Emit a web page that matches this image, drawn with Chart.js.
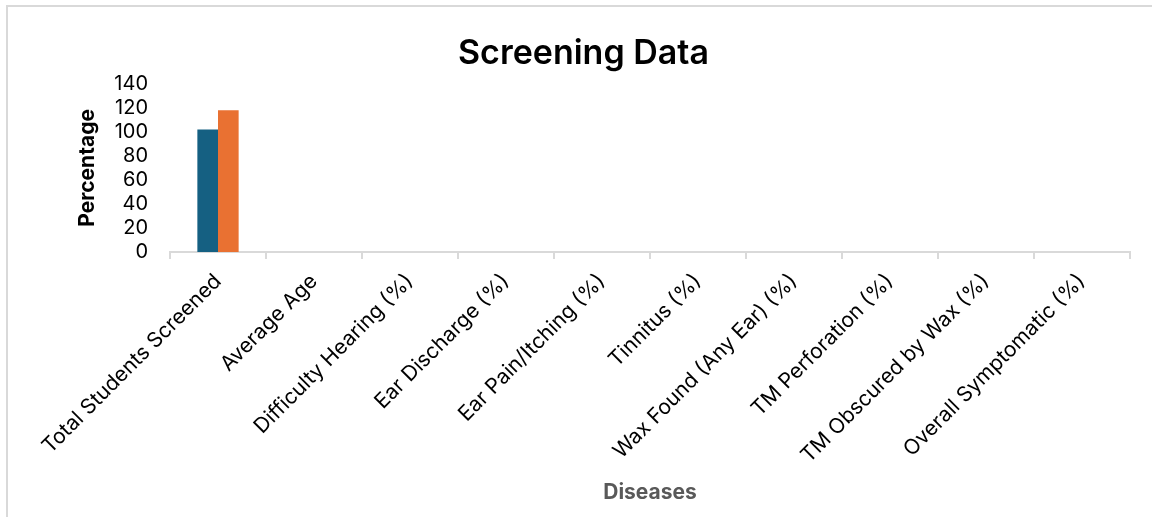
<!DOCTYPE html>
<html>
<head>
<meta charset="utf-8">
<script src="https://cdn.jsdelivr.net/npm/chart.js@4.4.1/dist/chart.umd.min.js"></script>
<style>
  html, body { margin: 0; padding: 0; background: #ffffff; }
  #wrap { position: relative; width: 1152px; height: 517px; overflow: hidden; }
  #frame {
    position: absolute; left: 6px; top: 5px; width: 1200px; height: 600px;
    border-top: 2px solid #d9d9d9; border-left: 2px solid #d9d9d9;
  }
  #c { position: absolute; left: 0; top: 0; }
</style>
</head>
<body>
<div id="wrap">
  <div id="frame"></div>
  <canvas id="c" width="1152" height="517"></canvas>
</div>
<script>
// Categories on the x axis
const categories = [
  'Total Students Screened',
  'Average Age',
  'Difficulty Hearing (%)',
  'Ear Discharge (%)',
  'Ear Pain/Itching (%)',
  'Tinnitus (%)',
  'Wax Found (Any Ear) (%)',
  'TM Perforation (%)',
  'TM Obscured by Wax (%)',
  'Overall Symptomatic (%)'
];

// Two series of values, one per category
const series1 = [102, 0, 0, 0, 0, 0, 0, 0, 0, 0];
const series2 = [118, 0, 0, 0, 0, 0, 0, 0, 0, 0];

// Value axis ticks
const yTicks = [0, 20, 40, 60, 80, 100, 120, 140];

const FONT = "Inter, 'Liberation Sans', Arial, sans-serif";

new Chart(document.getElementById('c'), {
  type: 'bar',
  data: {
    labels: categories,
    datasets: [
      { label: 'Series 1', data: series1, backgroundColor: '#156082', borderWidth: 0 },
      { label: 'Series 2', data: series2, backgroundColor: '#E97132', borderWidth: 0 }
    ]
  },
  options: {
    responsive: false,
    animation: false,
    events: [],
    layout: { padding: { left: 37, right: 22, top: 0, bottom: 0 } },
    datasets: { bar: { categoryPercentage: 0.43, barPercentage: 1.0 } },
    plugins: {
      legend: { display: false },
      tooltip: { enabled: false },
      title: {
        display: true,
        text: 'Screening Data',
        color: '#000000',
        font: { family: FONT, size: 34, weight: '600' },
        padding: { top: 33, bottom: 10 }
      }
    },
    scales: {
      x: {
        offset: true,
        grid: {
          display: true,
          drawOnChartArea: false,
          drawTicks: true,
          tickLength: 7,
          color: '#d9d9d9',
          lineWidth: 2,
          offset: true
        },
        border: { display: true, color: '#d9d9d9', width: 2 },
        ticks: {
          autoSkip: false,
          maxRotation: 45,
          minRotation: 45,
          padding: 10,
          color: '#000000',
          font: { family: FONT, size: 21 }
        },
        title: {
          display: true,
          text: 'Diseases',
          color: '#595959',
          font: { family: FONT, size: 21, weight: 'bold' },
          padding: { top: 0, bottom: 12 }
        },
        afterFit: (s) => { s.height = 265; }
      },
      y: {
        min: 0,
        max: 140,
        afterBuildTicks: (s) => { s.ticks = yTicks.map(v => ({ value: v })); },
        grid: { display: false, drawTicks: false },
        border: { display: false },
        ticks: {
          autoSkip: false,
          padding: 22,
          color: '#000000',
          font: { family: FONT, size: 20 }
        },
        title: {
          display: true,
          text: 'Percentage',
          color: '#000000',
          font: { family: FONT, size: 21, weight: 'bold' },
          padding: { top: 38, bottom: 0 }
        },
        afterFit: (s) => { s.width = 133; }
      }
    }
  }
});
</script>
</body>
</html>
